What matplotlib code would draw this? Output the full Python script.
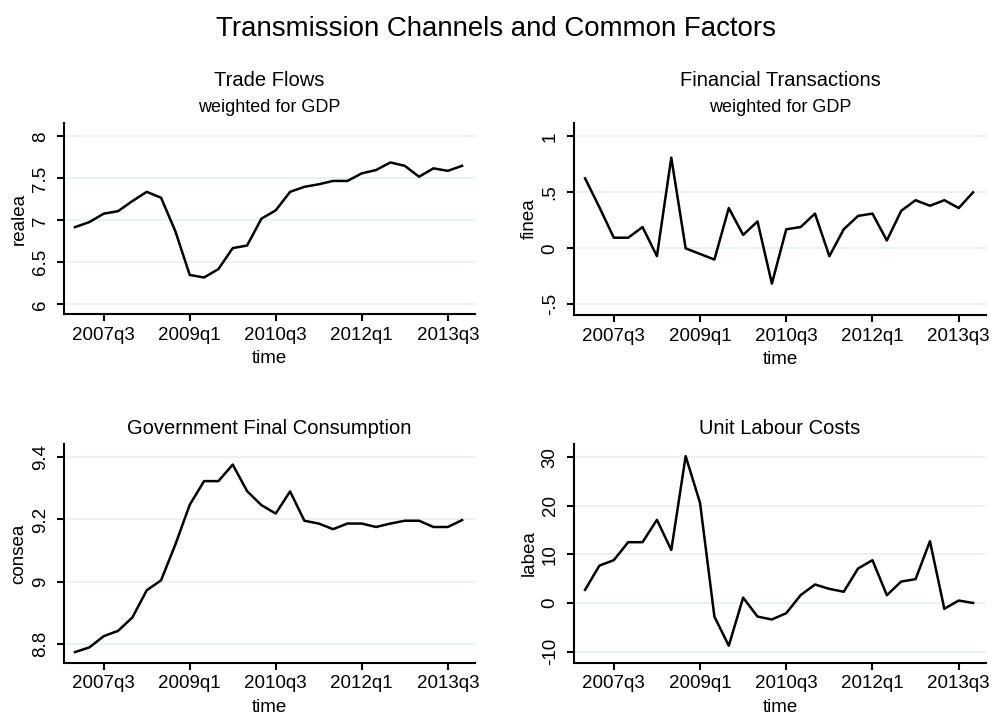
import numpy as np
import matplotlib
matplotlib.use("Agg")
import matplotlib.pyplot as plt

plt.rcParams['font.family'] = ['Liberation Sans', 'DejaVu Sans']

# quarterly data, 2007q1 .. 2013q4
start_year = 2007
n_quarters = 28
quarters = [f"{start_year + i // 4}q{i % 4 + 1}" for i in range(n_quarters)]

realea = [6.92, 6.98, 7.08, 7.11, 7.23, 7.34, 7.27, 6.87, 6.35, 6.32,
          6.42, 6.67, 6.70, 7.02, 7.12, 7.34, 7.40, 7.43, 7.47, 7.47,
          7.56, 7.60, 7.69, 7.65, 7.52, 7.62, 7.59, 7.65]
finea = [0.625, 0.366, 0.095, 0.095, 0.19, -0.07, 0.81, 0.0, -0.05, -0.10,
         0.36, 0.12, 0.24, -0.315, 0.17, 0.19, 0.31, -0.07, 0.17, 0.29,
         0.31, 0.07, 0.335, 0.43, 0.38, 0.43, 0.36, 0.50]
consea = [8.775, 8.79, 8.826, 8.843, 8.886, 8.973, 9.005, 9.12, 9.247, 9.323,
          9.323, 9.376, 9.291, 9.246, 9.219, 9.29, 9.196, 9.187, 9.169, 9.187,
          9.187, 9.176, 9.187, 9.196, 9.196, 9.176, 9.176, 9.198]
labea = [2.7, 7.7, 8.8, 12.5, 12.5, 17.1, 10.9, 30.2, 20.6, -2.8,
         -8.8, 1.1, -2.8, -3.4, -2.1, 1.6, 3.8, 2.9, 2.3, 7.1,
         8.8, 1.6, 4.4, 4.9, 12.7, -1.2, 0.5, 0.0]

tick_quarters = ["2007q3", "2009q1", "2010q3", "2012q1", "2013q3"]

panels = [
    # title, subtitle, ylabel, data, yticks, yticklabels, ylim, [left, top, width, height] in px
    ("Trade Flows", "weighted for GDP", "realea", realea,
     [6, 6.5, 7, 7.5, 8], ["6", "6.5", "7", "7.5", "8"], (5.885, 8.16), (64, 123, 411, 191)),
    ("Financial Transactions", "weighted for GDP", "finea", finea,
     [-0.5, 0, 0.5, 1], ["-.5", "0", ".5", "1"], (-0.595, 1.119), (574, 123, 412, 192)),
    ("Government Final Consumption", None, "consea", consea,
     [8.8, 9, 9.2, 9.4], ["8.8", "9", "9.2", "9.4"], (8.74, 9.442), (64, 444, 411, 219)),
    ("Unit Labour Costs", None, "labea", labea,
     [-10, 0, 10, 20, 30], ["-10", "0", "10", "20", "30"], (-12.35, 32.7), (574, 444, 412, 219)),
]

W, H = 993, 715
fig = plt.figure(figsize=(W / 100, H / 100), dpi=100)
fig.text(0.5, 1 - 29 / H, "Transmission Channels and Common Factors",
         ha="center", va="center", fontsize=19.9)

x = np.arange(n_quarters)
grid_col = "#e8f1f1"

for title, sub, ylab, data, yt, ytl, ylim, (l, t, w, h) in panels:
    ax = fig.add_axes([l / W, 1 - (t + h) / H, w / W, h / H])
    ax.plot(x, data, color="black", lw=1.8)
    ax.set_ylim(*ylim)
    ax.set_xlim(-0.77, 27.9)
    ax.set_yticks(yt)
    ax.set_yticklabels(ytl, rotation=90, va="center")
    ax.set_xticks([quarters.index(q) for q in tick_quarters])
    ax.set_xticklabels(tick_quarters)
    ax.yaxis.grid(True, color=grid_col, lw=1.3)
    ax.set_axisbelow(True)
    for s in ["top", "right"]:
        ax.spines[s].set_visible(False)
    for s in ["left", "bottom"]:
        ax.spines[s].set_linewidth(1.5)
    ax.tick_params(axis="both", length=5, width=1.5, labelsize=13.5)
    ax.tick_params(axis="y", pad=6)
    ax.tick_params(axis="x", pad=4)
    ax.set_xlabel("time", fontsize=13.5, labelpad=5)
    ax.set_ylabel(ylab, fontsize=13.5, labelpad=3)
    cx = (l + w / 2) / W
    if sub:
        fig.text(cx, 1 - 81 / H, title, ha="center", va="center", fontsize=14.5)
        fig.text(cx, 1 - 108 / H, sub, ha="center", va="center", fontsize=13)
    else:
        fig.text(cx, 1 - 429 / H, title, ha="center", va="center", fontsize=14.5)

fig.savefig("out.png", dpi=100)
